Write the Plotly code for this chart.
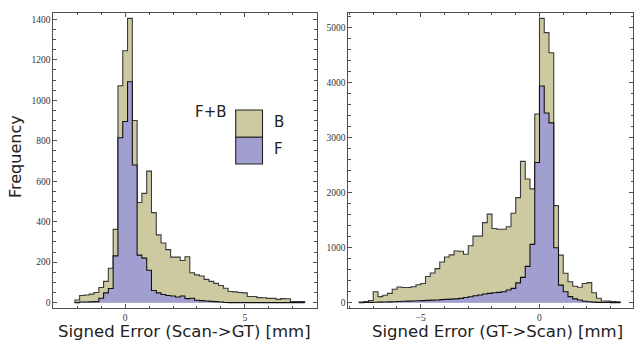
import numpy as np
import plotly.graph_objects as go

# ---------------- data ----------------
bin_width = 0.2

left_bin_start = -2.1
left_total = [13, 35, 38, 42, 50, 75, 105, 170, 362, 1072,
              1245, 1405, 900, 495, 540, 650, 445, 335, 295, 262,
              225, 225, 208, 227, 148, 137, 132, 115, 105, 95,
              85, 71, 55, 53, 50, 48, 30, 30, 25, 24,
              21, 21, 16, 20, 19, 5, 5, 5]
left_front = [0, 3, 3, 4, 5, 22, 48, 70, 231, 815,
              895, 1092, 680, 235, 220, 160, 60, 48, 40, 35,
              33, 28, 33, 20, 22, 12, 10, 8, 6, 5,
              3, 1, 0, 0, 0, 0, 0, 0, 0, 0,
              0, 0, 0, 0, 0, 0, 0, 0]

right_bin_start = -7.6
right_total = [10, 20, 40, 200, 110, 135, 170, 245, 285, 275,
               275, 290, 325, 350, 475, 540, 620, 740, 830, 870,
               940, 935, 880, 1035, 1210, 1210, 1455, 1610, 1350, 1335,
               1335, 1380, 1625, 1910, 2570, 2250, 2070, 3430, 5170, 4910,
               4545, 1765, 865, 535, 380, 300, 280, 350, 365, 180,
               80, 30, 28, 22, 18]
right_front = [0, 3, 5, 8, 10, 12, 15, 18, 22, 25,
               28, 30, 35, 38, 42, 46, 50, 55, 60, 65,
               70, 78, 95, 108, 125, 140, 158, 170, 180, 188,
               200, 230, 260, 360, 460, 660, 1060, 2550, 3940, 3450,
               3270, 1000, 320, 200, 110, 70, 50, 25, 18, 10,
               6, 4, 3, 2, 1]

left_xtitle = "Signed Error (Scan->GT) [mm]"
right_xtitle = "Signed Error (GT->Scan) [mm]"
ytitle = "Frequency"
legend_title = "F+B"
legend_labels = ["B", "F"]

# ---------------- style ----------------
W, H = 635, 344
OLIVE = "#cdc9a1"
PURPLE = "#a09fcf"
FRAME = "#505050"
TXT = "#222222"


def px(x):
    return x / W


def py(y):
    return 1 - y / H


def stairs(start, counts):
    n = len(counts)
    edges = np.round(start + bin_width * np.arange(n + 1), 6)
    xs = [edges[0]] + list(edges[:n]) + [edges[n], edges[n]]
    ys = [0] + list(counts) + [counts[-1], 0]
    return xs, ys


fig = go.Figure()

for start, tot, fr, xa, ya in [
    (left_bin_start, left_total, left_front, "x", "y"),
    (right_bin_start, right_total, right_front, "x2", "y2"),
]:
    xs, ys = stairs(start, tot)
    fig.add_trace(go.Scatter(x=xs, y=ys, mode="lines", line_shape="hv",
                             fill="tozeroy", fillcolor=OLIVE,
                             line=dict(color="#3a3a3a", width=1.1),
                             xaxis=xa, yaxis=ya, showlegend=False,
                             hoverinfo="skip"))
    xs, ys = stairs(start, fr)
    fig.add_trace(go.Scatter(x=xs, y=ys, mode="lines", line_shape="hv",
                             fill="tozeroy", fillcolor=PURPLE,
                             line=dict(color="#111111", width=1.1),
                             xaxis=xa, yaxis=ya, showlegend=False,
                             hoverinfo="skip"))

axis_common = dict(showline=True, linecolor=FRAME, linewidth=1,
                   mirror="allticks", ticks="inside", ticklen=4,
                   tickcolor=FRAME, tickwidth=1, showgrid=False,
                   zeroline=False,
                   tickfont=dict(family="Liberation Serif", size=9.5, color="#333"))

ydom = [py(308.3), py(12.7)]

fig.update_layout(
    width=W, height=H,
    margin=dict(l=0, r=0, t=0, b=0, autoexpand=False),
    paper_bgcolor="white", plot_bgcolor="white",
    xaxis=dict(domain=[px(53.3), px(316.7)], range=[-3.0, 8.0],
               tick0=0, dtick=5, anchor="y",
               minor=dict(ticks="inside", ticklen=2.5, dtick=1, tick0=0,
                          tickcolor=FRAME, showgrid=False),
               **axis_common),
    yaxis=dict(domain=ydom, range=[-28, 1433], tick0=0, dtick=200,
               anchor="x",
               minor=dict(ticks="inside", ticklen=2.5, dtick=50, tick0=0,
                          tickcolor=FRAME, showgrid=False),
               **axis_common),
    xaxis2=dict(domain=[px(348.3), px(633.3)], range=[-8.05, 3.95],
                tick0=0, dtick=5, anchor="y2",
                minor=dict(ticks="inside", ticklen=2.5, dtick=1, tick0=0,
                           tickcolor=FRAME, showgrid=False),
                **axis_common),
    yaxis2=dict(domain=ydom, range=[-102, 5273], tick0=0, dtick=1000,
                anchor="x2",
                minor=dict(ticks="inside", ticklen=2.5, dtick=200, tick0=0,
                           tickcolor=FRAME, showgrid=False),
                **axis_common),
)

title_font = dict(family="DejaVu Sans", size=16.5, color=TXT)
ann = [
    dict(x=px(184.5), y=py(331), text=left_xtitle, font=title_font),
    dict(x=px(497.5), y=py(331), text=right_xtitle, font=title_font),
    dict(x=px(16), y=py(157), text=ytitle, textangle=-90,
         font=dict(family="DejaVu Sans", size=16, color=TXT)),
    dict(x=px(211), y=py(112), text=legend_title,
         font=dict(family="DejaVu Sans", size=15, color=TXT)),
    dict(x=px(278.5), y=py(122), text=legend_labels[0],
         font=dict(family="DejaVu Sans", size=15, color=TXT)),
    dict(x=px(278), y=py(149), text=legend_labels[1],
         font=dict(family="DejaVu Sans", size=15, color=TXT)),
]
for a in ann:
    a.update(xref="paper", yref="paper", showarrow=False,
             xanchor="center", yanchor="middle")
    fig.add_annotation(**a)

fig.add_shape(type="rect", xref="paper", yref="paper",
              x0=px(235.7), x1=px(262.5), y0=py(137.3), y1=py(110),
              fillcolor=OLIVE, line=dict(color="#222", width=1.1))
fig.add_shape(type="rect", xref="paper", yref="paper",
              x0=px(235.7), x1=px(262.5), y0=py(164), y1=py(137.3),
              fillcolor=PURPLE, line=dict(color="#222", width=1.1))

fig.write_html(
    "out.html",
    config={"displayModeBar": False, "staticPlot": True},
    post_script="document.body.style.margin='0';document.body.style.overflow='hidden';",
)
